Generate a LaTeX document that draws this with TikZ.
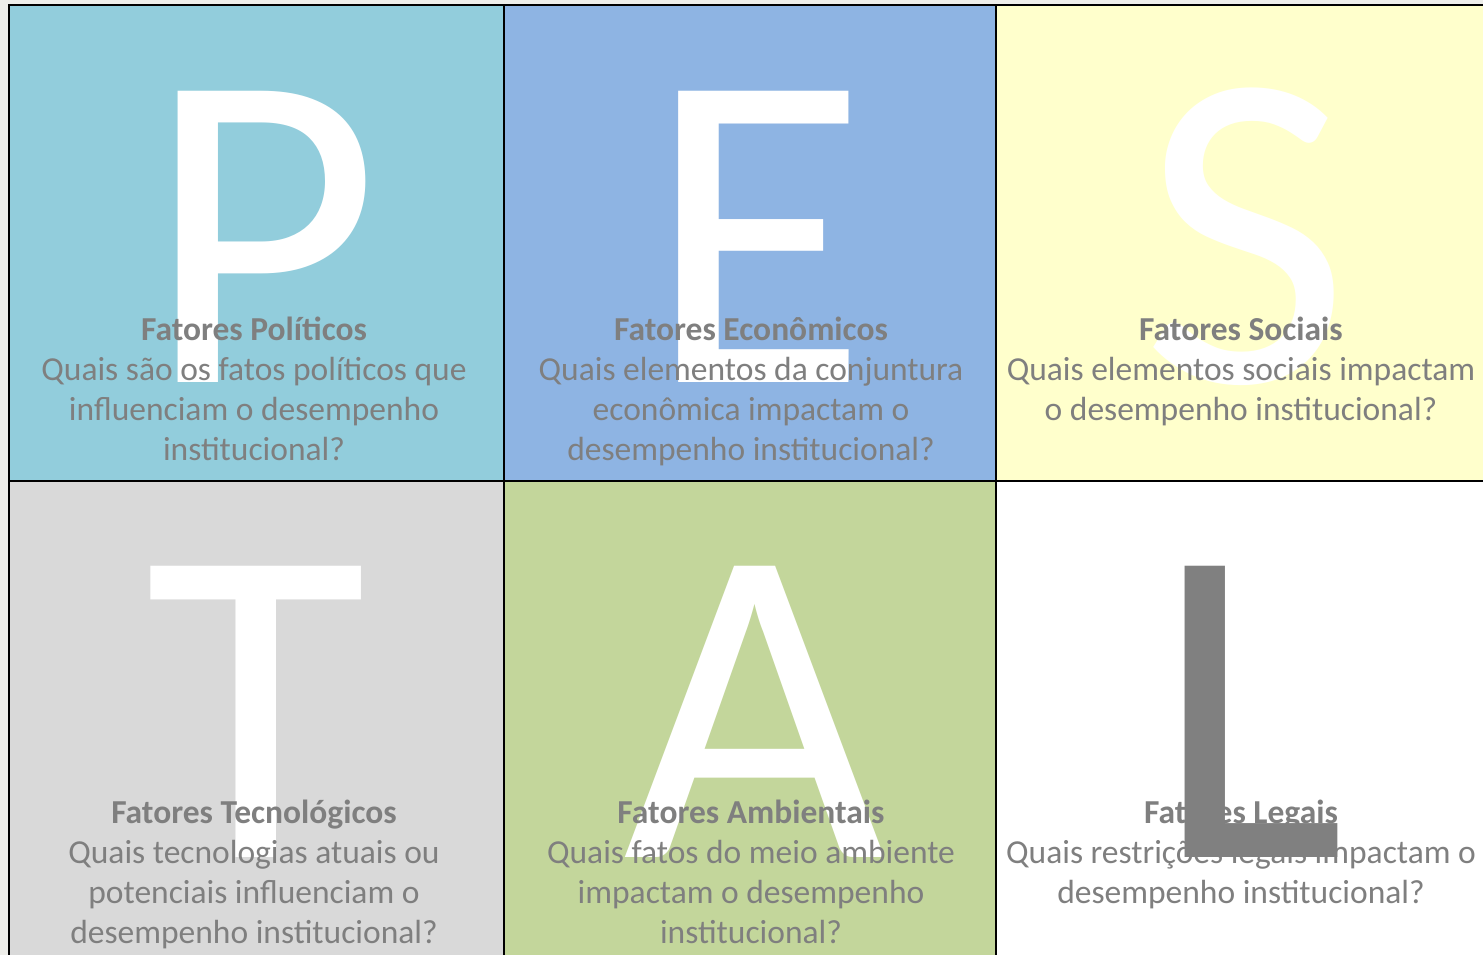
\documentclass[tikz,border=0pt]{standalone}
\usepackage{fontspec}
\setmainfont{Carlito}
\definecolor{bgout}{HTML}{EEEEEA}
\definecolor{cP}{HTML}{92CDDC}
\definecolor{cE}{HTML}{8EB4E3}
\definecolor{cS}{HTML}{FFFFCC}
\definecolor{cT}{HTML}{D9D9D9}
\definecolor{cA}{HTML}{C3D69B}
\definecolor{cL}{HTML}{FFFFFF}
\definecolor{txt}{HTML}{7F7F7F}
\definecolor{bigL}{HTML}{808080}
\tikzset{
  bigletter/.style={inner sep=0pt, anchor=base, text=white, font=\fontsize{454}{454}\selectfont},
  desc/.style={inner sep=0pt, anchor=base, align=center, text=txt, font=\fontsize{33.5}{40}\selectfont},
  gridline/.style={line width=2.4pt, black}
}
\begin{document}
\begin{tikzpicture}[x=1pt, y=-1pt]
\useasboundingbox (0,0) rectangle (1483,955);
\fill[bgout] (0,0) rectangle (1483,955);
% cells
\fill[cP] (9,5) rectangle (504,481);
\fill[cE] (504,5) rectangle (996,481);
\fill[cS] (996,5) rectangle (1495,481);
\fill[cT] (9,481) rectangle (504,970);
\fill[cA] (504,481) rectangle (996,970);
\fill[cL] (996,481) rectangle (1495,970);
% big letters
\node[bigletter] (P) at (263,382) {P};
\node[bigletter] (E) at (757,382) {E};
\node[bigletter] (S) at (1246,382) {S};
\node[bigletter] (T) at (256,857) {T};
\node[bigletter] (A) at (755,857) {A};
% texts (anchor = baseline of last line)
\node[desc] (tP) at (254,460) {\textbf{Fatores Políticos}\\Quais são os fatos políticos que\\influenciam o desempenho\\institucional?};
\node[desc] (tE) at (751,460) {\textbf{Fatores Econômicos}\\Quais elementos da conjuntura\\econômica impactam o\\desempenho institucional?};
\node[desc] (tS) at (1241,420) {\textbf{Fatores Sociais}\\Quais elementos sociais impactam\\o desempenho institucional?};
\node[desc] (tT) at (254,943) {\textbf{Fatores Tecnológicos}\\Quais tecnologias atuais ou\\potenciais influenciam o\\desempenho institucional?};
\node[desc] (tA) at (751,943) {\textbf{Fatores Ambientais}\\Quais fatos do meio ambiente\\impactam o desempenho\\institucional?};
\node[desc] (tL) at (1241,903) {\textbf{Fatores Legais}\\Quais restrições legais impactam o\\desempenho institucional?};
\node[bigletter, text=bigL] (L) at (1250,857) {L};
% grid
\draw[gridline] (1495,5) -- (9,5) -- (9,970);
\draw[gridline] (504,5) -- (504,970);
\draw[gridline] (996,5) -- (996,970);
\draw[gridline] (9,481) -- (1495,481);
\end{tikzpicture}
\end{document}
